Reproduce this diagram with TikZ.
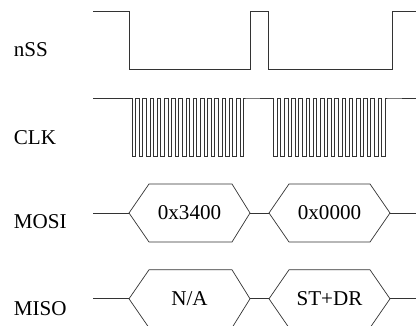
\documentclass[tikz,border=0pt]{standalone}
\usepackage{fontspec}
\setmainfont{Liberation Serif}
\begin{document}
\begin{tikzpicture}[
      sig/.style={draw=black!80, line width=0.5pt},
      lbl/.style={anchor=base west, inner sep=0pt, font=\fontsize{15}{18}\selectfont},
      val/.style={inner sep=0pt, font=\fontsize{15}{18}\selectfont}
    ]
      \useasboundingbox (0,0) rectangle (10.4,8.15);

      % Signal names
      \node[lbl] (nss) at (0.34,6.725) {nSS};
      \node[lbl] (clk) at (0.34,4.525) {CLK};
      \node[lbl] (mosi) at (0.34,2.425) {MOSI};
      \node[lbl] (miso) at (0.34,0.25) {MISO};

      % nSS
      \draw[sig] (2.325,7.875) -- (3.225,7.875) -- (3.225,6.425) -- (6.25,6.425)
        -- (6.25,7.875) -- (6.7,7.875) -- (6.7,6.425) -- (9.8,6.425)
        -- (9.8,7.875) -- (10.4,7.875);

      % CLK, two bursts of 16 cycles
      \draw[sig] (2.325,5.7) -- (3.3,5.7)
        \foreach \i in {1,...,16} { -- ++(0,-1.45) -- ++(0.09,0) -- ++(0,1.45) -- ++(0.09,0) }
        -- (6.8375,5.7)
        \foreach \i in {1,...,16} { -- ++(0,-1.45) -- ++(0.09,0) -- ++(0,1.45) -- ++(0.09,0) }
        -- (10.4,5.7);

      % MOSI
      \draw[sig] (2.325,2.825) -- (3.225,2.825);
      \draw[sig] (3.225,2.825) -- (3.725,3.55) -- (5.8,3.55) -- (6.25,2.825)
        -- (5.8,2.1) -- (3.725,2.1) -- cycle;
      \draw[sig] (6.25,2.825) -- (6.725,2.825);
      \draw[sig] (6.725,2.825) -- (7.225,3.55) -- (9.25,3.55) -- (9.75,2.825)
        -- (9.25,2.1) -- (7.225,2.1) -- cycle;
      \draw[sig] (9.75,2.825) -- (10.4,2.825);
      \node[val] (mosi1) at (4.7375,2.825) {0x3400};
      \node[val] (mosi2) at (8.2375,2.825) {0x0000};

      % MISO
      \draw[sig] (2.325,0.68) -- (3.225,0.68);
      \draw[sig] (3.225,0.68) -- (3.725,1.405) -- (5.8,1.405) -- (6.25,0.68)
        -- (5.8,-0.045) -- (3.725,-0.045) -- cycle;
      \draw[sig] (6.25,0.68) -- (6.725,0.68);
      \draw[sig] (6.725,0.68) -- (7.225,1.405) -- (9.25,1.405) -- (9.75,0.68)
        -- (9.25,-0.045) -- (7.225,-0.045) -- cycle;
      \draw[sig] (9.75,0.68) -- (10.4,0.68);
      \node[val] (miso1) at (4.7375,0.68) {N/A};
      \node[val] (miso2) at (8.2375,0.68) {ST+DR};
    \end{tikzpicture}
\end{document}
